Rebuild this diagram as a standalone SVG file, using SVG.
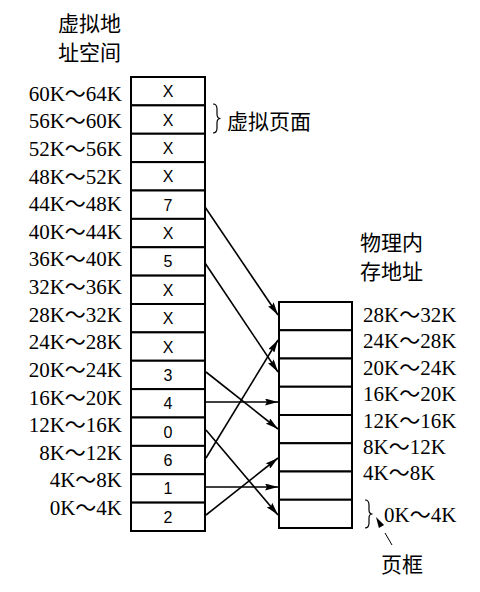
<svg xmlns="http://www.w3.org/2000/svg" width="480" height="592" viewBox="0 0 480 592">
<style>
.bg{fill:#fff}
.cell{fill:#fff;stroke:#000;stroke-width:2}
.v{font-family:"Liberation Sans",Arial,sans-serif;font-size:16px;text-anchor:middle;fill:#000}
.lbl{font-family:"Liberation Serif","Noto Sans CJK SC",serif;font-size:21px;fill:#000}
.cjk{font-family:"Noto Sans CJK SC","Noto Sans CJK JP",sans-serif;font-size:21px;fill:#000}
.end{text-anchor:end}
.conn{stroke:#000;stroke-width:1.6;fill:none}
.br{stroke:#000;stroke-width:1.2;fill:none}
</style>
<defs>
<marker id="ah" viewBox="0 0 13 7" refX="13" refY="3.5" markerWidth="13" markerHeight="7" markerUnits="userSpaceOnUse" orient="auto">
<path d="M0,0 L13,3.5 L0,7 L2,3.5 z" fill="#000"/>
</marker>
</defs>
<rect class="bg" x="0" y="0" width="480" height="592"/>

<g id="titles">
<text class="cjk" x="58" y="31">虚拟地</text>
<text class="cjk" x="58" y="60">址空间</text>
<text class="cjk" x="360" y="250">物理内</text>
<text class="cjk" x="360" y="279">存地址</text>
</g>

<g id="virtual-labels">
<text class="lbl end" x="122" y="100.7">60K～64K</text>
<text class="lbl end" x="122" y="128.3">56K～60K</text>
<text class="lbl end" x="122" y="155.9">52K～56K</text>
<text class="lbl end" x="122" y="183.6">48K～52K</text>
<text class="lbl end" x="122" y="211.2">44K～48K</text>
<text class="lbl end" x="122" y="238.8">40K～44K</text>
<text class="lbl end" x="122" y="266.4">36K～40K</text>
<text class="lbl end" x="122" y="294.0">32K～36K</text>
<text class="lbl end" x="122" y="321.7">28K～32K</text>
<text class="lbl end" x="122" y="349.3">24K～28K</text>
<text class="lbl end" x="122" y="376.9">20K～24K</text>
<text class="lbl end" x="122" y="404.5">16K～20K</text>
<text class="lbl end" x="122" y="432.1">12K～16K</text>
<text class="lbl end" x="122" y="459.8">8K～12K</text>
<text class="lbl end" x="122" y="487.4">4K～8K</text>
<text class="lbl end" x="122" y="515.0">0K～4K</text>
</g>

<g id="v60"><rect class="cell" x="131" y="77" width="74" height="28.375"/><text class="v" x="168" y="97.2">X</text></g>
<g id="v56"><rect class="cell" x="131" y="105.375" width="74" height="28.375"/><text class="v" x="168" y="125.6">X</text></g>
<g id="v52"><rect class="cell" x="131" y="133.75" width="74" height="28.375"/><text class="v" x="168" y="153.9">X</text></g>
<g id="v48"><rect class="cell" x="131" y="162.125" width="74" height="28.375"/><text class="v" x="168" y="182.3">X</text></g>
<g id="v44"><rect class="cell" x="131" y="190.5" width="74" height="28.375"/><text class="v" x="168" y="210.7">7</text></g>
<g id="v40"><rect class="cell" x="131" y="218.875" width="74" height="28.375"/><text class="v" x="168" y="239.1">X</text></g>
<g id="v36"><rect class="cell" x="131" y="247.25" width="74" height="28.375"/><text class="v" x="168" y="267.4">5</text></g>
<g id="v32"><rect class="cell" x="131" y="275.625" width="74" height="28.375"/><text class="v" x="168" y="295.8">X</text></g>
<g id="v28"><rect class="cell" x="131" y="304" width="74" height="28.375"/><text class="v" x="168" y="324.2">X</text></g>
<g id="v24"><rect class="cell" x="131" y="332.375" width="74" height="28.375"/><text class="v" x="168" y="352.6">X</text></g>
<g id="v20"><rect class="cell" x="131" y="360.75" width="74" height="28.375"/><text class="v" x="168" y="380.9">3</text></g>
<g id="v16"><rect class="cell" x="131" y="389.125" width="74" height="28.375"/><text class="v" x="168" y="409.3">4</text></g>
<g id="v12"><rect class="cell" x="131" y="417.5" width="74" height="28.375"/><text class="v" x="168" y="437.7">0</text></g>
<g id="v8"><rect class="cell" x="131" y="445.875" width="74" height="28.375"/><text class="v" x="168" y="466.1">6</text></g>
<g id="v4"><rect class="cell" x="131" y="474.25" width="74" height="28.375"/><text class="v" x="168" y="494.4">1</text></g>
<g id="v0"><rect class="cell" x="131" y="502.625" width="74" height="28.375"/><text class="v" x="168" y="522.8">2</text></g>

<g id="pages-brace">
<path class="br" d="M213,104 Q217,104 217,109 L217,114 Q217,118.5 220.5,118.5 Q217,118.5 217,123 L217,128 Q217,133 213,133"/>
<text class="cjk" x="227" y="128.5">虚拟页面</text>
</g>

<g id="f28"><rect class="cell" x="279" y="302" width="73" height="28.25"/></g>
<g id="f24"><rect class="cell" x="279" y="330.25" width="73" height="28.25"/></g>
<g id="f20"><rect class="cell" x="279" y="358.5" width="73" height="28.25"/></g>
<g id="f16"><rect class="cell" x="279" y="386.75" width="73" height="28.25"/></g>
<g id="f12"><rect class="cell" x="279" y="415" width="73" height="28.25"/></g>
<g id="f8"><rect class="cell" x="279" y="443.25" width="73" height="28.25"/></g>
<g id="f4"><rect class="cell" x="279" y="471.5" width="73" height="28.25"/></g>
<g id="f0"><rect class="cell" x="279" y="499.75" width="73" height="28.25"/></g>

<g id="physical-labels">
<text class="lbl" x="363" y="322">28K～32K</text>
<text class="lbl" x="363" y="348.4">24K～28K</text>
<text class="lbl" x="363" y="374.8">20K～24K</text>
<text class="lbl" x="363" y="401.2">16K～20K</text>
<text class="lbl" x="363" y="427.6">12K～16K</text>
<text class="lbl" x="363" y="454">8K～12K</text>
<text class="lbl" x="363" y="480.4">4K～8K</text>
<text class="lbl" x="384" y="522">0K～4K</text>
</g>

<g id="frame-label">
<path class="br" d="M365,500 Q369,500 369,505 L369,510 Q369,514 372.5,514 Q369,514 369,518 L369,523 Q369,528 365,528"/>
<polygon points="376,517 384.1,525 378.9,528" fill="#000"/>
<line x1="385" y1="533" x2="392" y2="545" stroke="#000" stroke-width="1"/>
<text class="cjk" x="381" y="571.5">页框</text>
</g>

<g id="connectors">
<line class="conn" x1="205" y1="207" x2="278" y2="315" marker-end="url(#ah)"/>
<line class="conn" x1="205" y1="263" x2="278" y2="372" marker-end="url(#ah)"/>
<line class="conn" x1="206" y1="372" x2="278" y2="429" marker-end="url(#ah)"/>
<line class="conn" x1="206" y1="402" x2="278" y2="402" marker-end="url(#ah)"/>
<line class="conn" x1="206" y1="430" x2="278" y2="515" marker-end="url(#ah)"/>
<line class="conn" x1="206" y1="458" x2="278" y2="340" marker-end="url(#ah)"/>
<line class="conn" x1="206" y1="487" x2="278" y2="487" marker-end="url(#ah)"/>
<line class="conn" x1="206" y1="515" x2="278" y2="458" marker-end="url(#ah)"/>
</g>
</svg>
